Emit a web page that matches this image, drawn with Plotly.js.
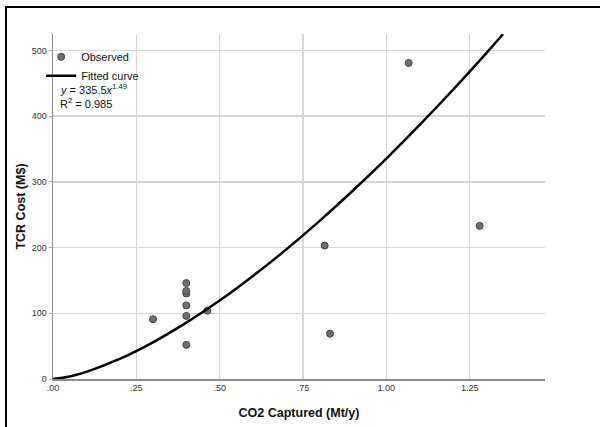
<!DOCTYPE html>
<html>
<head>
<meta charset="utf-8">
<script src="https://cdn.plot.ly/plotly-3.0.1.min.js"></script>
<style>
  html, body { margin: 0; padding: 0; background: #fff; }
  #wrap { position: relative; width: 600px; height: 427px; }
  #chart { width: 600px; height: 427px; }
  #frame { position: absolute; left: 5px; top: 6px; right: 0; bottom: 0;
           border-left: 2px solid #000; border-top: 2px solid #000; pointer-events: none; }
</style>
</head>
<body>
<div id="wrap">
  <div id="chart"></div>
  <div id="frame"></div>
</div>
<script>
const observedX = [0.30, 0.40, 0.40, 0.40, 0.40, 0.40, 0.40, 0.463, 0.815, 0.831, 1.067, 1.280];
const observedY = [91, 52, 96, 112, 130, 134, 146, 104, 203, 69, 481, 233];

// Fitted curve y = 335.5 x^1.49 (sampled values)
const curveX = [0, 0.05, 0.1, 0.2, 0.3, 0.4, 0.5, 0.6, 0.7, 0.8, 0.9, 1.0, 1.1, 1.2, 1.3, 1.35];
const curveY = [0, 3.9, 10.9, 30.5, 55.8, 85.7, 119.4, 156.8, 197.2, 240.6, 286.8, 335.5, 386.7, 440.2, 496.0, 524.7];

// Axis ticks
const xTickVals = [0, 0.25, 0.5, 0.75, 1.0, 1.25];
const xTickText = ['.00', '.25', '.50', '.75', '1.00', '1.25'];
const yTickVals = [0, 100, 200, 300, 400, 500];

const FONT = 'Liberation Sans, Arial, Helvetica, sans-serif';

const traces = [
  {
    type: 'scatter', mode: 'markers', name: 'Observed',
    x: observedX, y: observedY,
    marker: { size: 7, color: '#6e6e6e', line: { color: '#444', width: 1 } }
  },
  {
    type: 'scatter', mode: 'lines', name: 'Fitted curve',
    x: curveX, y: curveY,
    line: { color: '#000', width: 2.5, shape: 'spline' }
  }
];

const layout = {
  width: 600, height: 427,
  margin: { l: 53, r: 55, t: 34, b: 48 },
  paper_bgcolor: '#fff', plot_bgcolor: '#fff',
  font: { family: FONT, color: '#222', size: 11 },
  showlegend: true,
  legend: {
    x: -0.024, y: 0.976, xanchor: 'left', yanchor: 'top',
    bgcolor: 'rgba(0,0,0,0)', borderwidth: 0,
    font: { family: FONT, size: 11, color: '#111' },
    itemwidth: 30, tracegroupgap: 0
  },
  xaxis: {
    range: [0, 1.476], tickvals: xTickVals, ticktext: xTickText,
    showgrid: true, gridcolor: '#d6d6d6', gridwidth: 1.5,
    showline: true, linecolor: '#8c8c8c', linewidth: 1.5,
    zeroline: false, ticks: '',
    tickfont: { family: FONT, size: 9, color: '#333' },
    title: { text: '<b>CO2 Captured (Mt/y)</b>', font: { family: FONT, size: 12.5, color: '#111' }, standoff: 16 }
  },
  yaxis: {
    range: [0, 525], tickvals: yTickVals,
    showgrid: true, gridcolor: '#d6d6d6', gridwidth: 1.5,
    showline: true, linecolor: '#8c8c8c', linewidth: 1.5,
    zeroline: false, ticks: 'outside', ticklen: 3, tickcolor: '#aaa',
    tickfont: { family: FONT, size: 9, color: '#333' },
    title: { text: '<b>TCR Cost (M$)</b>', font: { family: FONT, size: 12.5, color: '#111' }, standoff: 3 }
  },
  annotations: [
    {
      xref: 'paper', yref: 'paper', x: 0.01, y: 0.84, xanchor: 'left', yanchor: 'middle',
      text: '<i>y</i> = 335.5<i>x</i><sup>1.49</sup>', showarrow: false,
      font: { family: FONT, size: 11, color: '#111' }
    },
    {
      xref: 'paper', yref: 'paper', x: 0.01, y: 0.80, xanchor: 'left', yanchor: 'middle',
      text: 'R<sup>2</sup> = 0.985', showarrow: false,
      font: { family: FONT, size: 11, color: '#111' }
    }
  ]
};

Plotly.newPlot('chart', traces, layout, { displayModeBar: false, staticPlot: true });
</script>
</body>
</html>
